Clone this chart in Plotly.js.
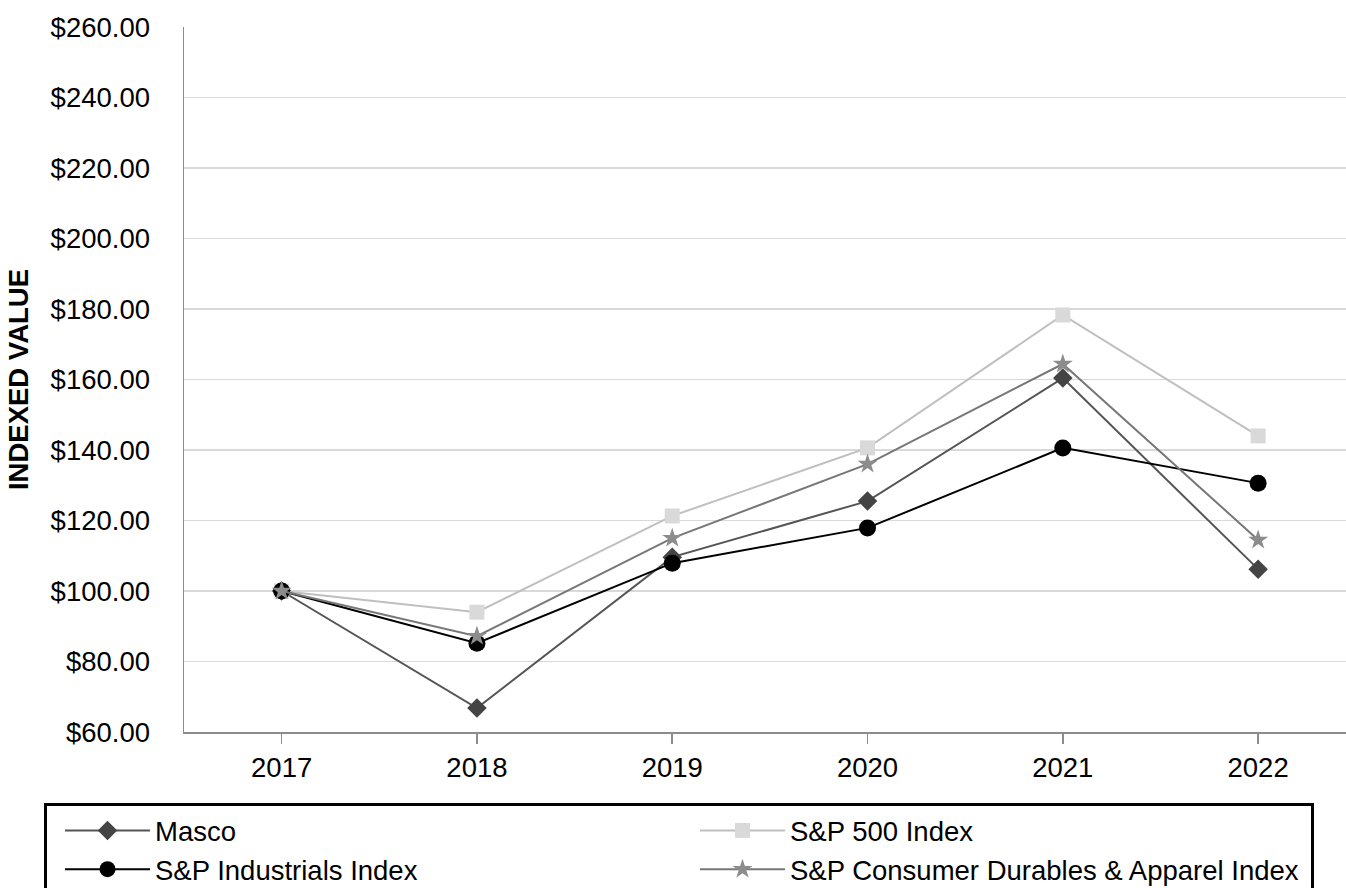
<!DOCTYPE html>
<html>
<head>
<meta charset="utf-8">
<script src="https://cdn.plot.ly/plotly-3.0.1.min.js"></script>
<style>html,body{margin:0;padding:0;background:#fff;}#chart{width:1346px;height:888px;}</style>
</head>
<body>
<div id="chart"></div>
<script>
var years = ["2017", "2018", "2019", "2020", "2021", "2022"];
var masco = [100.0, 66.8, 109.6, 125.5, 160.4, 106.2];
var sp500 = [100.0, 94.0, 121.3, 140.6, 178.3, 144.0];
var spIndustrials = [100.0, 85.2, 107.9, 117.9, 140.6, 130.6];
var spConsumerDurables = [100.0, 87.2, 115.0, 136.0, 164.4, 114.5];
var yTickVals = [60, 80, 100, 120, 140, 160, 180, 200, 220, 240, 260];
var yTickText = yTickVals.map(function(v){ return "$" + v.toFixed(2); });

var traces = [
  {x: years, y: masco, name: "Masco", type: "scatter", mode: "lines+markers", legendwidth: 522,
   line: {color: "#555555", width: 2}, marker: {symbol: "diamond", size: 15, color: "#444444"}},
  {x: years, y: sp500, name: "S&P 500 Index", type: "scatter", mode: "lines+markers", legendwidth: 516,
   line: {color: "#bfbfbf", width: 2}, marker: {symbol: "square", size: 15, color: "#d9d9d9"}},
  {x: years, y: spIndustrials, name: "S&P Industrials Index", type: "scatter", mode: "lines+markers", legendwidth: 522,
   line: {color: "#000000", width: 2}, marker: {symbol: "circle", size: 17, color: "#000000"}},
  {x: years, y: spConsumerDurables, name: "S&P Consumer Durables & Apparel Index", type: "scatter", mode: "lines+markers", legendwidth: 516,
   line: {color: "#777777", width: 2}, marker: {symbol: "star", size: 15, color: "#8c8c8c"}}
];

var layout = {
  width: 1346, height: 888,
  margin: {l: 184, r: 0, t: 27, b: 156, autoexpand: false},
  paper_bgcolor: "#ffffff", plot_bgcolor: "#ffffff",
  font: {family: "Liberation Sans, Arial, sans-serif", size: 27.5, color: "#000000"},
  showlegend: true,
  xaxis: {
    type: "category", range: [-0.5, 5.45],
    showline: true, linecolor: "#8c8c8c", linewidth: 1.5,
    ticks: "outside", ticklen: 10, tickcolor: "#8c8c8c", tickwidth: 1.5,
    showgrid: false, zeroline: false,
    tickfont: {size: 27.5, color: "#000000"}
  },
  yaxis: {
    range: [60, 260], tickvals: yTickVals, ticktext: yTickText,
    showline: true, linecolor: "#8c8c8c", linewidth: 1.5,
    showgrid: true, gridcolor: "#d9d9d9", gridwidth: 1.5,
    zeroline: false, ticks: "", ticklabelstandoff: 27,
    tickfont: {size: 27.5, color: "#000000"},
    title: {text: "<b>INDEXED VALUE</b>", font: {size: 27.5, color: "#000000"}, standoff: 14}
  },
  legend: {
    orientation: "h",
    x: (44 - 184) / 1162, y: (732 - 803) / 705, xanchor: "left", yanchor: "top",
    bordercolor: "#000000", borderwidth: 3, bgcolor: "#ffffff",
    font: {size: 27.5, color: "#000000"},
    itemwidth: 85, indentation: 13,
    entrywidth: 522, entrywidthmode: "pixels",
    traceorder: "normal"
  }
};

Plotly.newPlot("chart", traces, layout, {displayModeBar: false, staticPlot: true});
</script>
</body>
</html>
